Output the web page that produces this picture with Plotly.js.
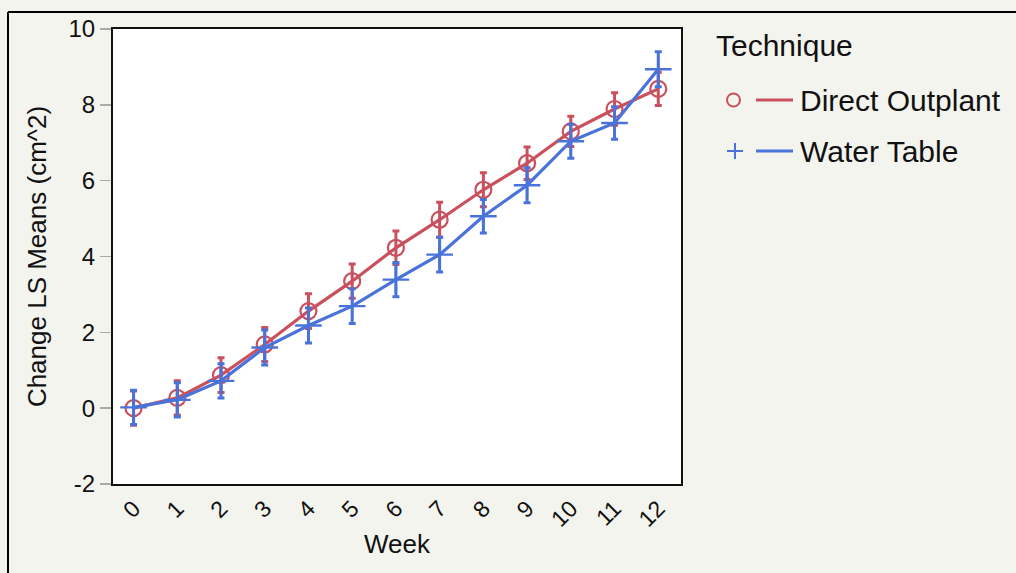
<!DOCTYPE html>
<html>
<head>
<meta charset="utf-8">
<script src="https://cdn.plot.ly/plotly-3.0.1.min.js"></script>
<style>
html,body{margin:0;padding:0;background:#f4f4ef;}
#chart{width:1016px;height:573px;}
</style>
</head>
<body>
<div id="chart"></div>
<script>
// Data
const weeks = [0,1,2,3,4,5,6,7,8,9,10,11,12];
const tickLabels = ["0","1","2","3","4","5","6","7","8","9","10","11","12"];
const yTickVals = [-2,0,2,4,6,8,10];
const yTickLabels = ["-2","0","2","4","6","8","10"];
const directOutplant = [0.00,0.27,0.87,1.68,2.56,3.35,4.23,4.97,5.76,6.46,7.30,7.89,8.42];
const directOutplantErr = [0.45,0.45,0.46,0.45,0.46,0.45,0.44,0.46,0.45,0.43,0.40,0.43,0.44];
const waterTable = [0.02,0.22,0.72,1.60,2.18,2.69,3.39,4.05,5.06,5.88,7.04,7.52,8.94];
const waterTableErr = [0.45,0.45,0.45,0.46,0.46,0.46,0.45,0.46,0.44,0.46,0.45,0.43,0.46];
const seriesNames = ["Direct Outplant","Water Table"];
const legendTitle = "Technique";

const RED = "#c9505c";
const BLUE = "#4a73d9";
const FONT = "Liberation Sans, Arial, Helvetica, sans-serif";

const traces = [
  {
    x: weeks, y: directOutplant, name: seriesNames[0], type: "scatter", mode: "lines+markers",
    line: {color: RED, width: 3.2},
    marker: {symbol: "circle-open", size: 16, color: RED, line: {width: 2.2, color: RED}},
    error_y: {type: "data", array: directOutplantErr, visible: true, color: RED, thickness: 3, width: 3.5},
    showlegend: false
  },
  {
    x: weeks, y: waterTable, name: seriesNames[1], type: "scatter", mode: "lines+markers",
    line: {color: BLUE, width: 3.2},
    marker: {symbol: "cross-thin-open", size: 19, color: BLUE, line: {width: 2.4, color: BLUE}},
    error_y: {type: "data", array: waterTableErr, visible: true, color: BLUE, thickness: 3, width: 3.5},
    showlegend: false
  }
];

// pixel -> paper helpers for the custom legend / frame
const L = 113, R = 681, T = 29, B = 484;
const px = v => (v - L) / (R - L);
const py = v => (B - v) / (B - T);

const layout = {
  width: 1016, height: 573,
  margin: {l: L, r: 1016 - R, t: T, b: 573 - B},
  paper_bgcolor: "#f4f4ef",
  plot_bgcolor: "#ffffff",
  font: {family: FONT, color: "#111"},
  xaxis: {
    range: [-0.47, 12.52], tickmode: "array", tickvals: weeks, ticktext: tickLabels,
    tickangle: -45, ticks: "", showgrid: false, zeroline: false,
    showline: true, linecolor: "#111", linewidth: 2, mirror: true,
    tickfont: {size: 23, family: FONT, color: "#111"},
    title: {text: "Week", font: {size: 26, family: FONT, color: "#111"}, standoff: 4},
    automargin: false
  },
  yaxis: {
    range: [-2, 10], tickmode: "array", tickvals: yTickVals, ticktext: yTickLabels,
    ticks: "outside", ticklen: 11, tickcolor: "#aaa", tickwidth: 1.5,
    showgrid: false, zeroline: false,
    showline: true, linecolor: "#111", linewidth: 2, mirror: true,
    tickfont: {size: 24, family: FONT, color: "#111"},
    title: {text: "Change LS Means (cm^2)", font: {size: 26, family: FONT, color: "#111"}, standoff: 14},
    automargin: false
  },
  shapes: [
    // outer frame
    {type: "line", xref: "paper", yref: "paper", x0: px(8), x1: px(8), y0: py(580), y1: py(12), line: {color: "#000", width: 2}},
    {type: "line", xref: "paper", yref: "paper", x0: px(8), x1: px(1020), y0: py(12), y1: py(12), line: {color: "#000", width: 2}},
    // legend symbols
    {type: "circle", xref: "paper", yref: "paper", x0: px(727), x1: px(740), y0: py(106.5), y1: py(93.5), line: {color: RED, width: 2}},
    {type: "line", xref: "paper", yref: "paper", x0: px(756), x1: px(793), y0: py(100), y1: py(100), line: {color: RED, width: 3}},
    {type: "line", xref: "paper", yref: "paper", x0: px(727), x1: px(743), y0: py(151), y1: py(151), line: {color: BLUE, width: 2}},
    {type: "line", xref: "paper", yref: "paper", x0: px(735), x1: px(735), y0: py(143), y1: py(159), line: {color: BLUE, width: 2}},
    {type: "line", xref: "paper", yref: "paper", x0: px(756), x1: px(793), y0: py(151), y1: py(151), line: {color: BLUE, width: 3}}
  ],
  annotations: [
    {xref: "paper", yref: "paper", x: px(714), y: py(46), text: legendTitle, showarrow: false, xanchor: "left", yanchor: "middle", font: {size: 30, family: FONT, color: "#111"}},
    {xref: "paper", yref: "paper", x: px(798), y: py(100), text: seriesNames[0], showarrow: false, xanchor: "left", yanchor: "middle", font: {size: 30, family: FONT, color: "#111"}},
    {xref: "paper", yref: "paper", x: px(798), y: py(151), text: seriesNames[1], showarrow: false, xanchor: "left", yanchor: "middle", font: {size: 30, family: FONT, color: "#111"}}
  ]
};

Plotly.newPlot("chart", traces, layout, {displayModeBar: false, staticPlot: true});
</script>
</body>
</html>
